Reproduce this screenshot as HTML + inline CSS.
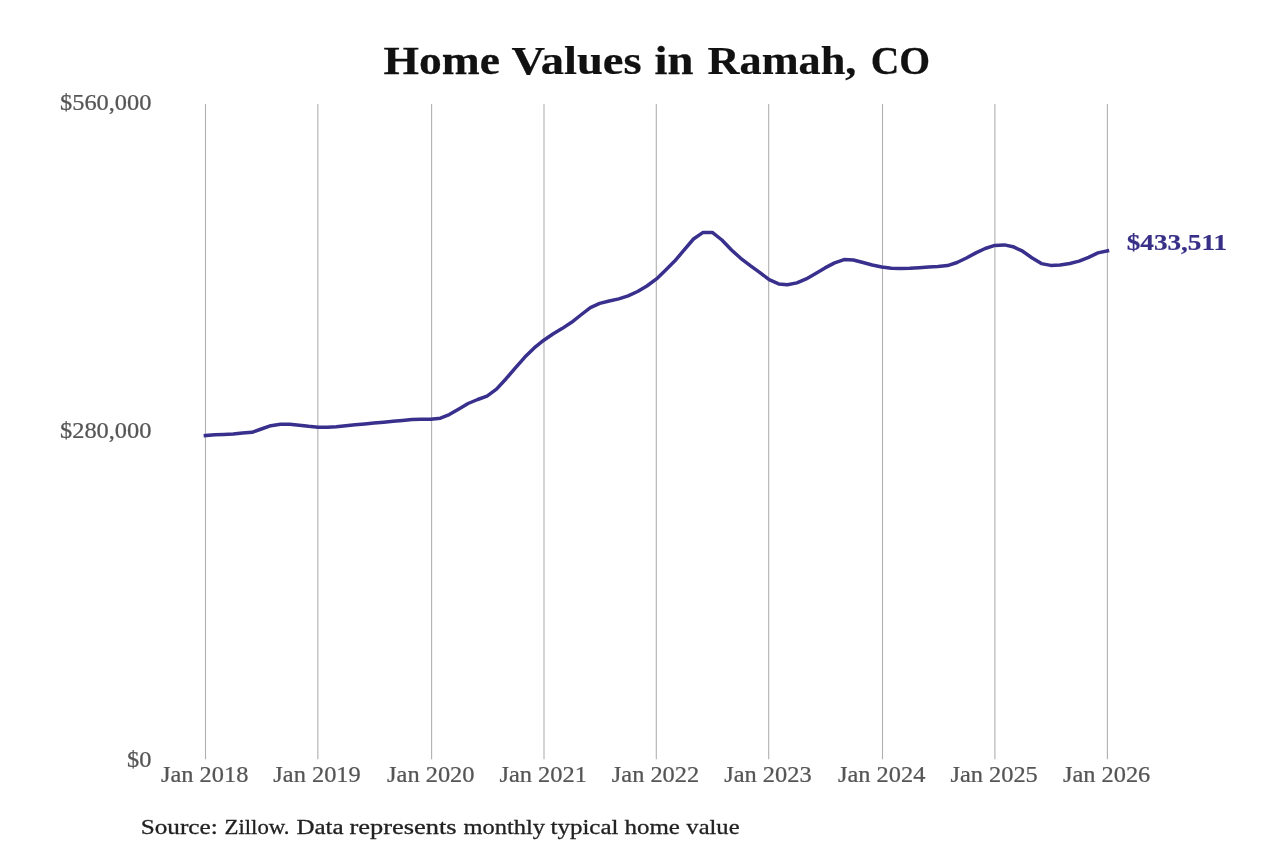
<!DOCTYPE html>
<html lang="en">
<head>
<meta charset="utf-8">
<title>Home Values in Ramah, CO</title>
<style>
html,body{margin:0;padding:0;background:#ffffff;}
body{width:1280px;height:853px;overflow:hidden;}
svg{display:block;will-change:transform;}
text{font-family:"Liberation Serif",serif;}
.grid line{stroke:#b0b0b0;stroke-width:1.1;}
.tick{fill:#555555;}
.title{fill:#111111;font-weight:bold;}
.src{fill:#222222;}
.endlab{fill:#382f87;font-weight:bold;}
</style>
</head>
<body>
<svg width="1280" height="853" viewBox="0 0 1280 853">
<rect x="0" y="0" width="1280" height="853" fill="#ffffff"/>
<g class="grid">
<line x1="205.50" y1="103.9" x2="205.50" y2="759.2"/>
<line x1="317.85" y1="103.9" x2="317.85" y2="759.2"/>
<line x1="431.60" y1="103.9" x2="431.60" y2="759.2"/>
<line x1="544.00" y1="103.9" x2="544.00" y2="759.2"/>
<line x1="656.30" y1="103.9" x2="656.30" y2="759.2"/>
<line x1="768.70" y1="103.9" x2="768.70" y2="759.2"/>
<line x1="882.50" y1="103.9" x2="882.50" y2="759.2"/>
<line x1="994.90" y1="103.9" x2="994.90" y2="759.2"/>
<line x1="1107.40" y1="103.9" x2="1107.40" y2="759.2"/>
</g>
<path d="M205.4,435.5 L215.0,434.7 L223.7,434.4 L233.2,433.9 L242.5,432.9 L252.1,432.3 L261.3,429.0 L270.9,425.7 L280.5,424.3 L289.7,424.3 L299.3,425.2 L308.6,426.3 L318.1,427.2 L327.7,427.2 L336.3,426.7 L345.9,425.7 L355.2,424.8 L364.7,423.9 L374.0,423.1 L383.6,422.2 L393.1,421.3 L402.4,420.4 L412.0,419.6 L421.2,419.2 L430.8,419.2 L440.4,418.2 L449.3,414.6 L458.9,409.0 L468.1,403.5 L477.7,399.5 L487.0,396.1 L496.5,389.1 L506.1,378.7 L515.4,367.9 L524.9,357.1 L534.2,347.9 L543.8,340.2 L553.3,333.8 L562.0,328.6 L571.6,322.3 L580.8,315.0 L590.4,307.6 L599.7,303.4 L609.2,301.0 L618.8,298.9 L628.1,295.9 L637.6,291.5 L646.9,286.0 L656.5,278.9 L666.0,269.8 L674.7,261.1 L684.2,249.9 L693.5,239.0 L703.1,232.4 L712.3,232.4 L721.9,240.0 L731.5,250.0 L740.7,258.3 L750.3,265.6 L759.6,272.3 L769.1,279.6 L778.7,283.9 L787.3,284.8 L796.9,282.9 L806.2,278.9 L815.7,273.4 L825.0,267.9 L834.6,262.9 L844.1,259.6 L853.4,260.0 L863.0,262.5 L872.2,265.0 L881.8,267.0 L891.4,268.2 L900.3,268.5 L909.9,268.2 L919.1,267.7 L928.7,267.0 L938.0,266.6 L947.5,265.6 L957.1,262.5 L966.4,258.0 L975.9,252.9 L985.2,248.5 L994.8,245.4 L1004.3,244.9 L1013.0,246.7 L1022.6,251.2 L1031.8,257.7 L1041.4,263.6 L1050.7,265.4 L1060.2,265.0 L1069.8,263.5 L1079.1,261.1 L1088.6,257.3 L1097.9,252.9 L1107.5,250.8" fill="none" stroke="#392f8c" stroke-width="3.50" stroke-linejoin="round" stroke-linecap="square"/>
<g id="title">
<text id="tw0" class="title" text-anchor="start" font-size="40.00" word-spacing="2.00" stroke="#111111" stroke-width="0.25" stroke-linejoin="round" transform="translate(383.50,73.60) scale(1.1400,1.0000)">Home</text>
<text id="tw1" class="title" text-anchor="start" font-size="40.00" word-spacing="2.00" stroke="#111111" stroke-width="0.25" stroke-linejoin="round" transform="translate(511.50,73.60) scale(1.1631,1.0000)">Values</text>
<text id="tw2" class="title" text-anchor="start" font-size="40.00" word-spacing="2.00" stroke="#111111" stroke-width="0.25" stroke-linejoin="round" transform="translate(654.50,73.60) scale(1.1662,1.0000)">in</text>
<text id="tw3" class="title" text-anchor="start" font-size="40.00" word-spacing="2.00" stroke="#111111" stroke-width="0.25" stroke-linejoin="round" transform="translate(707.50,73.60) scale(1.1079,1.0000)">Ramah,</text>
<text id="tw4" class="title" text-anchor="start" font-size="40.00" word-spacing="2.00" stroke="#111111" stroke-width="0.25" stroke-linejoin="round" transform="translate(870.65,73.60) scale(0.9910,1.0000)">CO</text>
</g>
<text id="yl0" class="tick" text-anchor="end" font-size="22.95" stroke="#555555" stroke-width="0.25" stroke-linejoin="round" transform="translate(151.45,110.30) scale(1.0630,1.0000)">$560,000</text>
<text id="yl1" class="tick" text-anchor="end" font-size="22.95" stroke="#555555" stroke-width="0.25" stroke-linejoin="round" transform="translate(151.45,437.65) scale(1.0630,1.0000)">$280,000</text>
<text id="yl2" class="tick" text-anchor="end" font-size="22.95" stroke="#555555" stroke-width="0.25" stroke-linejoin="round" transform="translate(151.45,767.30) scale(1.0630,1.0000)">$0</text>
<text id="xl0" class="tick" text-anchor="middle" font-size="22.95" stroke="#555555" stroke-width="0.25" stroke-linejoin="round" transform="translate(204.70,782.00) scale(1.0630,1.0000)">Jan 2018</text>
<text id="xl1" class="tick" text-anchor="middle" font-size="22.95" stroke="#555555" stroke-width="0.25" stroke-linejoin="round" transform="translate(317.05,782.00) scale(1.0630,1.0000)">Jan 2019</text>
<text id="xl2" class="tick" text-anchor="middle" font-size="22.95" stroke="#555555" stroke-width="0.25" stroke-linejoin="round" transform="translate(430.80,782.00) scale(1.0630,1.0000)">Jan 2020</text>
<text id="xl3" class="tick" text-anchor="middle" font-size="22.95" stroke="#555555" stroke-width="0.25" stroke-linejoin="round" transform="translate(543.20,782.00) scale(1.0630,1.0000)">Jan 2021</text>
<text id="xl4" class="tick" text-anchor="middle" font-size="22.95" stroke="#555555" stroke-width="0.25" stroke-linejoin="round" transform="translate(655.50,782.00) scale(1.0630,1.0000)">Jan 2022</text>
<text id="xl5" class="tick" text-anchor="middle" font-size="22.95" stroke="#555555" stroke-width="0.25" stroke-linejoin="round" transform="translate(767.90,782.00) scale(1.0630,1.0000)">Jan 2023</text>
<text id="xl6" class="tick" text-anchor="middle" font-size="22.95" stroke="#555555" stroke-width="0.25" stroke-linejoin="round" transform="translate(881.70,782.00) scale(1.0630,1.0000)">Jan 2024</text>
<text id="xl7" class="tick" text-anchor="middle" font-size="22.95" stroke="#555555" stroke-width="0.25" stroke-linejoin="round" transform="translate(994.10,782.00) scale(1.0630,1.0000)">Jan 2025</text>
<text id="xl8" class="tick" text-anchor="middle" font-size="22.95" stroke="#555555" stroke-width="0.25" stroke-linejoin="round" transform="translate(1106.60,782.00) scale(1.0630,1.0000)">Jan 2026</text>
<text id="endlab" class="endlab" text-anchor="start" font-size="23.10" stroke="#382f87" stroke-width="0.20" stroke-linejoin="round" transform="translate(1126.70,250.00) scale(1.1770,1.0000)">$433,511</text>
<g id="src">
<text id="sw0" class="src" text-anchor="start" font-size="21.90" stroke="#222222" stroke-width="0.30" stroke-linejoin="round" transform="translate(140.65,834.30) scale(1.1533,1.0000)">Source:</text>
<text id="sw1" class="src" text-anchor="start" font-size="21.90" stroke="#222222" stroke-width="0.30" stroke-linejoin="round" transform="translate(224.50,834.30) scale(1.0417,1.0000)">Zillow.</text>
<text id="sw2" class="src" text-anchor="start" font-size="21.90" stroke="#222222" stroke-width="0.30" stroke-linejoin="round" transform="translate(296.50,834.30) scale(1.1400,1.0000)">Data</text>
<text id="sw3" class="src" text-anchor="start" font-size="21.90" stroke="#222222" stroke-width="0.30" stroke-linejoin="round" transform="translate(349.50,834.30) scale(1.2078,1.0000)">represents</text>
<text id="sw4" class="src" text-anchor="start" font-size="21.90" stroke="#222222" stroke-width="0.30" stroke-linejoin="round" transform="translate(463.50,834.30) scale(1.1167,1.0000)">monthly</text>
<text id="sw5" class="src" text-anchor="start" font-size="21.90" stroke="#222222" stroke-width="0.30" stroke-linejoin="round" transform="translate(550.50,834.30) scale(1.1400,1.0000)">typical</text>
<text id="sw6" class="src" text-anchor="start" font-size="21.90" stroke="#222222" stroke-width="0.30" stroke-linejoin="round" transform="translate(624.50,834.30) scale(1.1400,1.0000)">home</text>
<text id="sw7" class="src" text-anchor="start" font-size="21.90" stroke="#222222" stroke-width="0.30" stroke-linejoin="round" transform="translate(686.35,834.30) scale(1.1221,1.0000)">value</text>
</g>
</svg>
</body>
</html>
